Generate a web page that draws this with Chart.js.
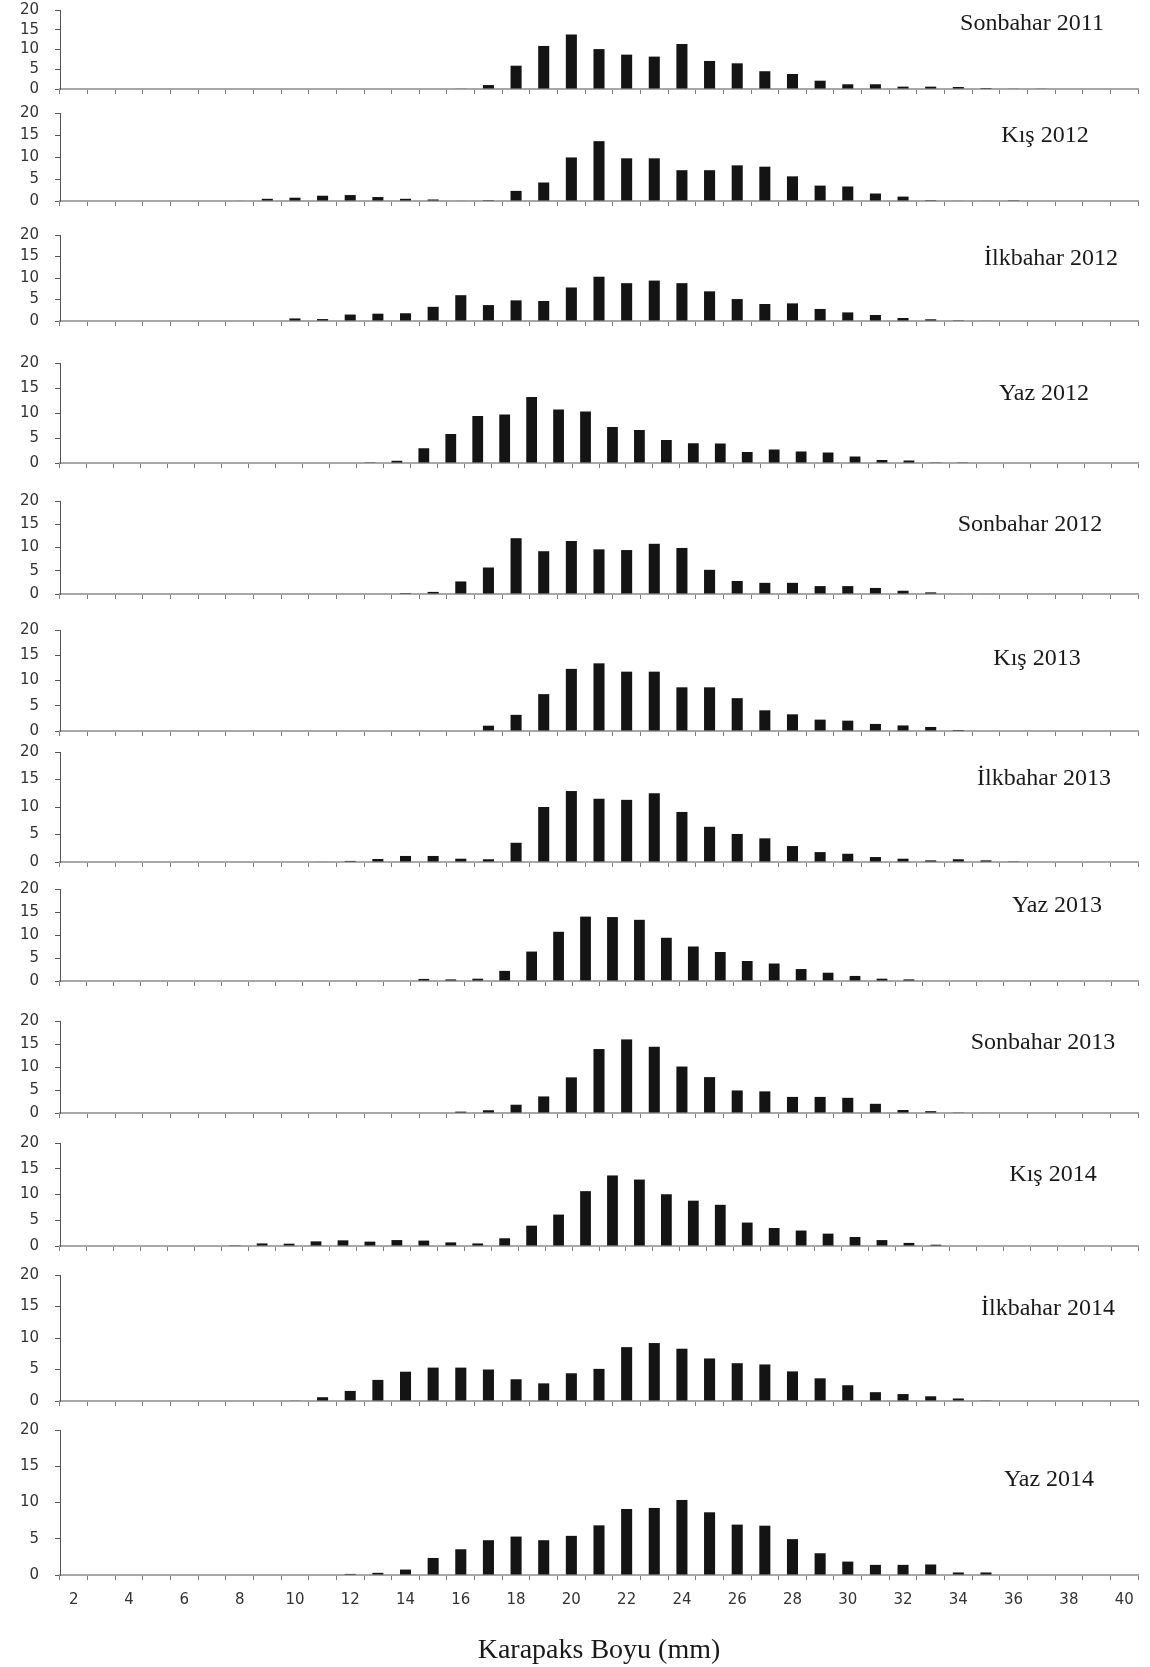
<!DOCTYPE html>
<html>
<head>
<meta charset="utf-8">
<script src="https://cdn.jsdelivr.net/npm/chart.js@4.4.1/dist/chart.umd.min.js"></script>
<style>
  body { margin: 0; background: #fff; }
  #sayfa { position: relative; width: 1150px; height: 1667px; overflow: hidden; background: #fff; }
  #sayfa canvas { position: absolute; left: 0; }
</style>
</head>
<body>
<div id="sayfa"></div>
<script>
// Karapaks boyu sınıfları (mm)
const boy2_40 = ['2','3','4','5','6','7','8','9','10','11','12','13','14','15','16','17','18','19','20','21',
  '22','23','24','25','26','27','28','29','30','31','32','33','34','35','36','37','38','39','40'];
const boy1_40 = ['1','2','3','4','5','6','7','8','9','10','11','12','13','14','15','16','17','18','19','20','21',
  '22','23','24','25','26','27','28','29','30','31','32','33','34','35','36','37','38','39','40'];

// Mevsimlik boy-frekans dağılımları (%)
const sonbahar2011 = [0,0,0,0,0,0,0,0,0,0,0,0,0,0,
  0.1,1.0,5.9,10.9,13.8,10.1,8.7,8.2,11.4,7.1,6.5,4.5,3.8,2.1,1.2,1.2,0.6,0.6,0.5,0.25,0.1,0.1,0,0,0];
const kis2012 = [0,0,0,0,0,0,
  0.1,0.5,0.75,1.2,1.35,0.9,0.5,0.35,0.1,0.2,2.3,4.2,9.9,13.6,9.7,9.7,7.0,7.0,8.1,7.8,5.6,3.5,3.3,1.7,1.0,0.2,0.1,0.1,0.05,
  0,0,0,0];
const ilkbahar2012 = [0,0,0,0,0,0,0,0,
  0.6,0.45,1.5,1.7,1.8,3.3,6.0,3.7,4.8,4.65,7.8,10.3,8.8,9.4,8.8,6.9,5.1,3.95,4.1,2.8,2.0,1.4,0.7,0.4,0.05,0.1,
  0,0,0,0,0];
const yaz2012 = [0,0,0,0,0,0,0,0,0,0,0,
  0.05,0.45,2.95,5.8,9.4,9.7,13.2,10.7,10.3,7.2,6.6,4.6,3.95,3.9,2.2,2.7,2.3,2.1,1.3,0.6,0.5,0.05,0.05,
  0,0,0,0,0,0];
const sonbahar2012 = [0,0,0,0,0,0,0,0,0,0,0,0,
  0.2,0.45,2.7,5.7,12.0,9.2,11.4,9.6,9.45,10.8,9.9,5.2,2.8,2.4,2.4,1.7,1.7,1.3,0.7,0.35,0.1,0.1,
  0,0,0,0,0];
const kis2013 = [0,0,0,0,0,0,0,0,0,0,0,0,0,0,0,
  1.05,3.2,7.3,12.3,13.4,11.75,11.75,8.65,8.65,6.5,4.1,3.3,2.25,2.05,1.4,1.1,0.8,0.2,0.1,
  0,0,0,0,0];
const ilkbahar2013 = [0,0,0,0,0,0,0,0,0,
  0.1,0.2,0.55,1.1,1.1,0.6,0.5,3.5,10.0,12.9,11.5,11.3,12.5,9.1,6.4,5.1,4.3,2.9,1.8,1.5,0.9,0.6,0.3,0.5,0.3,0.05,
  0,0,0,0];
const yaz2013 = [0,0,0,0,0,0,0,0,0,0,0,0,0,
  0.45,0.35,0.5,2.2,6.4,10.7,14.0,13.9,13.3,9.4,7.5,6.3,4.35,3.8,2.6,1.8,1.1,0.5,0.35,
  0,0,0,0,0,0,0,0];
const sonbahar2013 = [0,0,0,0,0,0,0,0,0,0,0,0,0,0,
  0.3,0.6,1.8,3.6,7.75,13.9,16.0,14.4,10.1,7.8,4.9,4.7,3.5,3.5,3.3,2.0,0.65,0.4,0.15,0.1,
  0,0,0,0,0];
const kis2014 = [0,0,0,0,0,0,
  0.05,0.5,0.45,0.9,1.1,0.85,1.15,1.05,0.7,0.5,1.5,3.95,6.1,10.65,13.7,12.9,10.05,8.8,8.0,4.55,3.5,3.0,2.4,1.75,1.15,0.6,0.25,
  0,0,0,0,0,0,0];
const ilkbahar2014 = [0,0,0,0,0,0,0,0,
  0.1,0.6,1.6,3.35,4.65,5.3,5.3,5.0,3.45,2.8,4.4,5.1,8.55,9.2,8.3,6.75,6.0,5.8,4.7,3.6,2.5,1.4,1.1,0.75,0.4,0.05,
  0,0,0,0,0];
const yaz2014 = [0,0,0,0,0,0,0,0,0,0,
  0.15,0.3,0.75,2.35,3.55,4.8,5.3,4.8,5.4,6.85,9.1,9.25,10.35,8.65,6.95,6.8,4.95,3.0,1.85,1.4,1.4,1.45,0.35,0.35,
  0,0,0,0,0];

const yTicks = [0, 5, 10, 15, 20];

// Panel yerleşimi: çizim alanının üst/alt kenarı ve mevsim yazısının merkezi (sayfa pikseli)
const paneller = [
  { ad: 'Sonbahar 2011', veri: sonbahar2011, etiket: boy2_40, ust: 10,   alt: 89,   yx: 1032, yy: 24 },
  { ad: 'Kış 2012',      veri: kis2012,      etiket: boy2_40, ust: 113,  alt: 201,  yx: 1045, yy: 136 },
  { ad: 'İlkbahar 2012', veri: ilkbahar2012, etiket: boy2_40, ust: 235,  alt: 321,  yx: 1051, yy: 259 },
  { ad: 'Yaz 2012',      veri: yaz2012,      etiket: boy1_40, ust: 363,  alt: 463,  yx: 1044, yy: 394 },
  { ad: 'Sonbahar 2012', veri: sonbahar2012, etiket: boy2_40, ust: 501,  alt: 594,  yx: 1030, yy: 525 },
  { ad: 'Kış 2013',      veri: kis2013,      etiket: boy2_40, ust: 630,  alt: 731,  yx: 1037, yy: 659 },
  { ad: 'İlkbahar 2013', veri: ilkbahar2013, etiket: boy2_40, ust: 752,  alt: 862,  yx: 1044, yy: 779 },
  { ad: 'Yaz 2013',      veri: yaz2013,      etiket: boy1_40, ust: 889,  alt: 981,  yx: 1057, yy: 906 },
  { ad: 'Sonbahar 2013', veri: sonbahar2013, etiket: boy2_40, ust: 1021, alt: 1113, yx: 1043, yy: 1043 },
  { ad: 'Kış 2014',      veri: kis2014,      etiket: boy1_40, ust: 1143, alt: 1246, yx: 1053, yy: 1175 },
  { ad: 'İlkbahar 2014', veri: ilkbahar2014, etiket: boy2_40, ust: 1275, alt: 1401, yx: 1048, yy: 1309 },
  { ad: 'Yaz 2014',      veri: yaz2014,      etiket: boy2_40, ust: 1430, alt: 1575, yx: 1049, yy: 1480 }
];

// Sağ üstteki mevsim adı
const mevsimYazisi = {
  id: 'mevsimYazisi',
  afterDraw(chart, args, opts) {
    const ctx = chart.ctx;
    ctx.save();
    ctx.font = '24px "Liberation Serif", "Times New Roman", serif';
    ctx.fillStyle = '#1a1a1a';
    ctx.textAlign = 'center';
    ctx.textBaseline = 'middle';
    ctx.fillText(opts.text, opts.x, opts.y);
    ctx.restore();
  }
};

const sayfa = document.getElementById('sayfa');
const ustBosluk = 12;

paneller.forEach((p, i) => {
  const sonPanel = i === paneller.length - 1;
  const xYukseklik = sonPanel ? 1667 - p.alt : 8;
  const tuvalUst = Math.max(0, p.ust - ustBosluk);
  const padUst = p.ust - tuvalUst;
  const yukseklik = (p.alt - p.ust) + padUst + xYukseklik;

  const canvas = document.createElement('canvas');
  canvas.width = 1150;
  canvas.height = yukseklik;
  canvas.style.top = tuvalUst + 'px';
  canvas.style.width = '1150px';
  canvas.style.height = yukseklik + 'px';
  sayfa.appendChild(canvas);

  new Chart(canvas.getContext('2d'), {
    type: 'bar',
    data: {
      labels: p.etiket,
      datasets: [{
        data: p.veri,
        backgroundColor: '#141414',
        borderWidth: 0,
        barPercentage: 0.4,
        categoryPercentage: 1.0
      }]
    },
    options: {
      responsive: false,
      animation: false,
      devicePixelRatio: 1,
      layout: { padding: { left: 0, right: 12, top: padUst, bottom: 0 } },
      plugins: {
        legend: { display: false },
        tooltip: { enabled: false },
        mevsimYazisi: { text: p.ad, x: p.yx, y: p.yy - tuvalUst }
      },
      scales: {
        x: {
          offset: true,
          grid: { display: true, drawOnChartArea: false, drawTicks: true, tickLength: 5, offset: true, color: '#7a7a7a', lineWidth: 1 },
          border: { display: true, color: '#a8a8a8', width: 2 },
          ticks: {
            display: sonPanel,
            autoSkip: false,
            maxRotation: 0,
            padding: 11,
            color: '#333',
            font: { family: '"DejaVu Sans", sans-serif', size: 15 },
            callback: function(v) {
              const t = this.getLabelForValue(v);
              return Number(t) % 2 === 0 ? t : '';
            }
          },
          title: {
            display: sonPanel,
            text: 'Karapaks Boyu (mm)',
            color: '#1a1a1a',
            font: { family: '"Liberation Serif", "Times New Roman", serif', size: 28 },
            padding: { top: 0, bottom: 0 }
          },
          afterFit: s => { s.height = xYukseklik; }
        },
        y: {
          min: 0,
          max: 20,
          afterBuildTicks: s => { s.ticks = yTicks.map(v => ({ value: v })); },
          grid: { display: true, drawOnChartArea: false, drawTicks: true, tickLength: 5, color: '#555' },
          border: { display: true, color: '#555', width: 1 },
          ticks: {
            autoSkip: false,
            padding: 16,
            color: '#333',
            font: { family: '"DejaVu Sans", sans-serif', size: 15 }
          },
          // eksen genişliği sabit, etiket taşması için ek boşluk istenmesin
          afterFit: s => { s.width = 60; s.paddingTop = 0; s.paddingBottom = 0; }
        }
      }
    },
    plugins: [mevsimYazisi]
  });
});
</script>
</body>
</html>
